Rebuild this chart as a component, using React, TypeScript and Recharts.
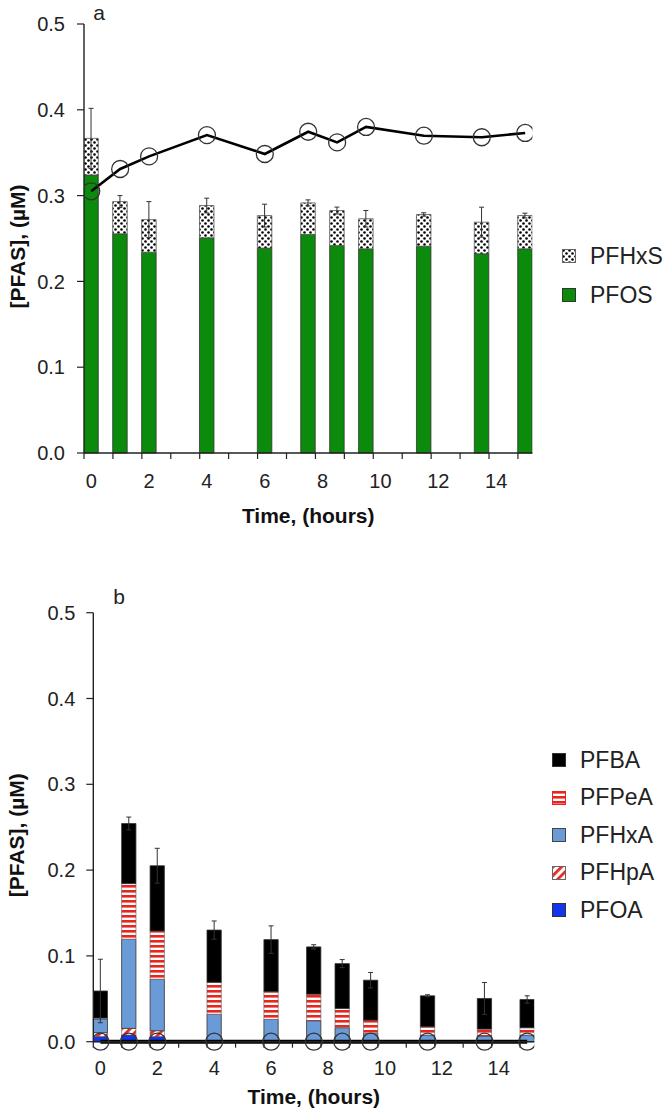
import React from 'react';
import { ComposedChart, Bar, Line, XAxis, YAxis, ErrorBar, Legend } from 'recharts';

// ---------- data ----------
const times = [0, 1, 2, 4, 6, 7.5, 8.5, 9.5, 11.5, 13.5, 15];
const hourTicks = [0, 1, 2, 3, 4, 5, 6, 7, 8, 9, 10, 11, 12, 13, 14, 15];
const yTicks = [0, 0.1, 0.2, 0.3, 0.4, 0.5];

// panel a
const pfos = [0.324, 0.2555, 0.234, 0.2508, 0.2388, 0.2547, 0.2419, 0.238, 0.241, 0.2322, 0.238];
const pfhxs = [0.0427, 0.0375, 0.038, 0.0376, 0.0379, 0.0368, 0.0407, 0.035, 0.037, 0.0368, 0.0387];
const errA = [0.035, 0.007, 0.021, 0.0086, 0.0133, 0.0035, 0.004, 0.0096, 0.002, 0.0175, 0.0028];
const lineA = [0.305, 0.331, 0.3457, 0.3705, 0.3485, 0.3744, 0.362, 0.38, 0.3698, 0.368, 0.373];

// panel b
const pfoa = [0.006, 0.0078, 0.006, 0, 0, 0, 0, 0, 0, 0, 0];
const pfhpa = [0.0045, 0.0077, 0.0068, 0, 0, 0, 0, 0, 0, 0.001, 0];
const pfhxa = [0.016, 0.104, 0.06, 0.032, 0.026, 0.0244, 0.0163, 0.0097, 0.0078, 0.0056, 0.0078];
const pfpea = [0.001, 0.0648, 0.0563, 0.0373, 0.0323, 0.031, 0.0225, 0.0155, 0.0096, 0.0081, 0.0085];
const pfba = [0.0316, 0.07, 0.076, 0.0608, 0.0607, 0.0551, 0.0522, 0.0465, 0.0361, 0.0357, 0.0329];
const errB = [0.037, 0.0075, 0.0203, 0.0106, 0.016, 0.0025, 0.0047, 0.009, 0.0012, 0.0186, 0.0043];
const lineB = [0, 0, 0, 0, 0, 0, 0, 0, 0, 0, 0];

// bars span half an hour starting at the sampling time; plot at bar centre
const BAR_HALF = 0.25;

const dataA = times.map((t, i) => ({
  pos: t + BAR_HALF,
  PFOS: pfos[i],
  PFHxS: pfhxs[i],
  err: errA[i],
  total: lineA[i],
}));

const dataB = times.map((t, i) => ({
  pos: t + BAR_HALF,
  PFOA: pfoa[i],
  PFHpA: pfhpa[i],
  PFHxA: pfhxa[i],
  PFPeA: pfpea[i],
  PFBA: pfba[i],
  err: errB[i],
  total: lineB[i],
}));

const FONT = '"Liberation Sans", Arial, Helvetica, sans-serif';
const RED = '#e8261e';
const GREEN = '#0b8a0b';
const LIGHTBLUE = '#6b9bd6';
const BLUE = '#1236ee';

const legendA = [
  { name: 'PFHxS', fill: 'url(#pDots)', stroke: '#666' },
  { name: 'PFOS', fill: GREEN, stroke: '#333' },
];
const legendB = [
  { name: 'PFBA', fill: '#000', stroke: '#333' },
  { name: 'PFPeA', fill: 'url(#pHStripes)', stroke: RED },
  { name: 'PFHxA', fill: LIGHTBLUE, stroke: '#444' },
  { name: 'PFHpA', fill: 'url(#pDiag)', stroke: '#666' },
  { name: 'PFOA', fill: BLUE, stroke: '#333' },
];

const makeLegend = (items: any[], rowH: number) => () => (
  <div style={{ fontFamily: FONT }}>
    {items.map((it) => (
      <div key={it.name} style={{ display: 'flex', alignItems: 'center', height: rowH }}>
        <svg width={14} height={14} style={{ display: 'block' }}>
          <rect x={0.5} y={0.5} width={13} height={13} fill={it.fill} stroke={it.stroke} strokeWidth={1} />
        </svg>
        <span style={{ marginLeft: 14, fontSize: 23, color: '#222', lineHeight: '23px' }}>{it.name}</span>
      </div>
    ))}
  </div>
);

const makeXTick = (shift: number) => (props: any) => {
  const { x, y, payload } = props;
  const v = payload.value;
  if (v % 2 !== 0) return <g />;
  return (
    <text x={x + shift} y={y} dy={14.3} textAnchor="middle" fontSize={20} fill="#222" fontFamily={FONT}>
      {v}
    </text>
  );
};

const YTitle = (props: any) => {
  const vb = props.viewBox || { y: 0, height: 0 };
  const cx = 17;
  const cy = vb.y + vb.height / 2 + 8;
  return (
    <text
      x={cx}
      y={cy}
      transform={`rotate(-90 ${cx} ${cy})`}
      textAnchor="middle"
      dominantBaseline="central"
      fontSize={21}
      fontWeight="bold"
      fill="#111"
      fontFamily={FONT}
    >
      [PFAS], (µM)
    </text>
  );
};

const dotStyle = { r: 8.5, fill: 'none', stroke: '#333', strokeWidth: 1.3 };
const barStroke = { stroke: '#333', strokeWidth: 0.8 };

export default function App() {
  return (
    <div style={{ position: 'absolute', left: 0, top: 0, width: 666, height: 1116, background: '#fff', fontFamily: FONT }}>
      <svg width={0} height={0} style={{ position: 'absolute' }}>
        <defs>
          <pattern id="pDots" patternUnits="userSpaceOnUse" width={6} height={6}>
            <rect width={6} height={6} fill="#fff" />
            <circle cx={1.5} cy={1.5} r={1.3} fill="#000" />
            <circle cx={4.5} cy={4.5} r={1.3} fill="#000" />
          </pattern>
          <pattern id="pHStripes" patternUnits="userSpaceOnUse" width={6} height={5}>
            <rect width={6} height={5} fill="#fff" />
            <rect y={0} width={6} height={2.6} fill={RED} />
          </pattern>
          <pattern id="pDiag" patternUnits="userSpaceOnUse" width={6} height={6} patternTransform="rotate(45)">
            <rect width={6} height={6} fill="#fff" />
            <rect width={2.8} height={6} fill={RED} />
          </pattern>
        </defs>
      </svg>

      {/* panel a */}
      <div style={{ position: 'absolute', left: 0, top: 0 }}>
        <ComposedChart width={666} height={540} data={dataA} margin={{ top: 24, right: 133.6, bottom: 7, left: 24 }}>
          <XAxis
            type="number"
            dataKey="pos"
            domain={[0, 15.5]}
            ticks={hourTicks}
            interval={0}
            allowDataOverflow
            tickSize={6}
            tickMargin={15}
            height={80}
            tick={makeXTick(7.2)}
            axisLine={{ stroke: '#222', strokeWidth: 1.4 }}
            tickLine={{ stroke: '#222', strokeWidth: 1.2 }}
            label={{ value: 'Time, (hours)', position: 'insideBottom', offset: 10, fontSize: 21, fontWeight: 'bold', fill: '#111' }}
          />
          <YAxis
            type="number"
            domain={[0, 0.5]}
            ticks={yTicks}
            width={60}
            tickSize={7}
            tickMargin={12}
            tickFormatter={(v: number) => v.toFixed(1)}
            tick={{ fontSize: 20, fill: '#222' }}
            axisLine={{ stroke: '#222', strokeWidth: 1.4 }}
            tickLine={{ stroke: '#222', strokeWidth: 1.2 }}
            label={<YTitle />}
          />
          <Bar dataKey="PFOS" stackId="a" fill={GREEN} {...barStroke} barSize={14.5} isAnimationActive={false} />
          <Bar dataKey="PFHxS" stackId="a" fill="url(#pDots)" stroke="#555" strokeWidth={0.8} barSize={14.5} isAnimationActive={false}>
            <ErrorBar dataKey="err" width={2.5} stroke="#333" strokeWidth={1} />
          </Bar>
          <Line
            dataKey="total"
            type="linear"
            stroke="#000"
            strokeWidth={2.6}
            dot={dotStyle}
            activeDot={false}
            isAnimationActive={false}
          />
          <Legend
            layout="vertical"
            align="center"
            verticalAlign="middle"
            content={makeLegend(legendA, 39)}
            wrapperStyle={{ position: 'absolute', left: 562, top: 236.5, width: 110, height: 80 }}
          />
        </ComposedChart>
      </div>

      {/* panel b */}
      <div style={{ position: 'absolute', left: 0, top: 580 }}>
        <ComposedChart width={666} height={536} data={dataB} margin={{ top: 32.7, right: 131.7, bottom: 4.3, left: 33.3 }}>
          <XAxis
            type="number"
            dataKey="pos"
            domain={[0, 15.5]}
            ticks={hourTicks}
            interval={0}
            allowDataOverflow
            tickSize={6}
            tickMargin={13.3}
            height={70}
            tick={makeXTick(7.1)}
            axisLine={{ stroke: '#222', strokeWidth: 1.4 }}
            tickLine={{ stroke: '#222', strokeWidth: 1.2 }}
            label={{ value: 'Time, (hours)', position: 'insideBottom', offset: 8, fontSize: 21, fontWeight: 'bold', fill: '#111' }}
          />
          <YAxis
            type="number"
            domain={[0, 0.5]}
            ticks={yTicks}
            width={60}
            tickSize={7}
            tickMargin={11}
            tickFormatter={(v: number) => v.toFixed(1)}
            tick={{ fontSize: 20, fill: '#222' }}
            axisLine={{ stroke: '#222', strokeWidth: 1.4 }}
            tickLine={{ stroke: '#222', strokeWidth: 1.2 }}
            label={<YTitle />}
          />
          <Bar dataKey="PFOA" stackId="b" fill={BLUE} {...barStroke} barSize={14.3} isAnimationActive={false} />
          <Bar dataKey="PFHpA" stackId="b" fill="url(#pDiag)" stroke="#666" strokeWidth={0.6} barSize={14.3} isAnimationActive={false} />
          <Bar dataKey="PFHxA" stackId="b" fill={LIGHTBLUE} {...barStroke} barSize={14.3} isAnimationActive={false} />
          <Bar dataKey="PFPeA" stackId="b" fill="url(#pHStripes)" stroke="#555" strokeWidth={0.6} barSize={14.3} isAnimationActive={false} />
          <Bar dataKey="PFBA" stackId="b" fill="#000" {...barStroke} barSize={14.3} isAnimationActive={false}>
            <ErrorBar dataKey="err" width={2.5} stroke="#333" strokeWidth={1} />
          </Bar>
          <Line
            dataKey="total"
            type="linear"
            stroke="#000"
            strokeWidth={4}
            dot={dotStyle}
            activeDot={false}
            isAnimationActive={false}
          />
          <Legend
            layout="vertical"
            align="center"
            verticalAlign="middle"
            content={makeLegend(legendB, 37.5)}
            wrapperStyle={{ position: 'absolute', left: 552, top: 161.3, width: 114, height: 190 }}
          />
        </ComposedChart>
      </div>

      <svg width={666} height={1116} style={{ position: 'absolute', left: 0, top: 0, pointerEvents: 'none' }}>
        <text x={99} y={19.5} textAnchor="middle" fontSize={21} fill="#222" fontFamily={FONT}>a</text>
        <text x={119} y={604} textAnchor="middle" fontSize={21} fill="#222" fontFamily={FONT}>b</text>
      </svg>
    </div>
  );
}
